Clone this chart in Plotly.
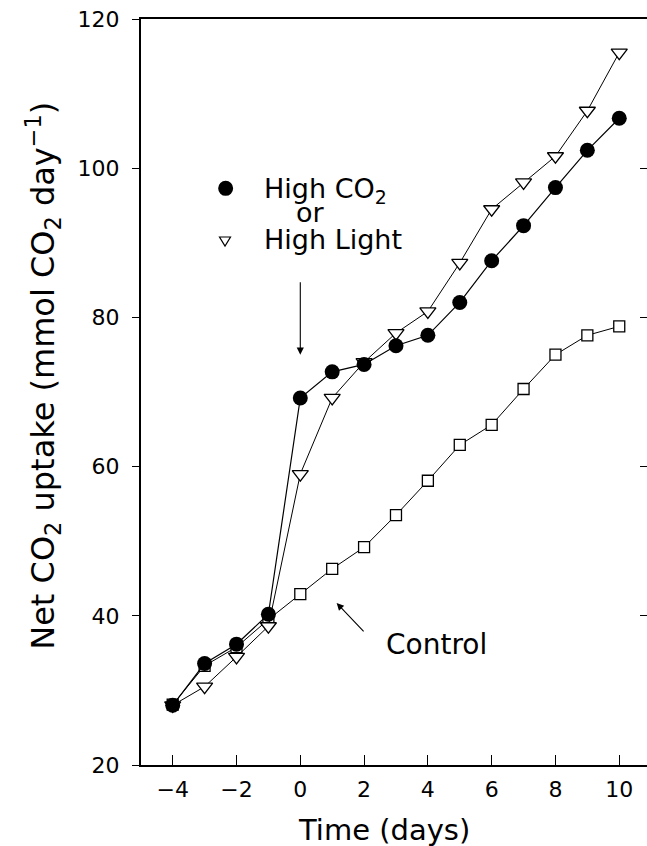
import plotly.graph_objects as go

# ---- data ----
days = [-4, -3, -2, -1, 0, 1, 2, 3, 4, 5, 6, 7, 8, 9, 10]
high_co2 = [28.0, 33.6, 36.2, 40.2, 69.2, 72.7, 73.7, 76.2, 77.6, 82.0, 87.6, 92.3, 97.4, 102.4, 106.7]
high_light = [28.0, 30.5, 34.5, 38.6, 59.0, 69.2, 74.0, 77.9, 80.8, 87.3, 94.5, 98.1, 101.6, 107.7, 115.5]
control = [28.1, 33.3, 35.8, 39.5, 42.9, 46.3, 49.2, 53.5, 58.1, 62.9, 65.6, 70.4, 75.0, 77.6, 78.8]
x_ticks = [-4, -2, 0, 2, 4, 6, 8, 10]
y_ticks = [20, 40, 60, 80, 100, 120]

FONT = "DejaVu Sans"
W, H = 647, 846
ML, MR, MT, MB = 141, 0, 19, 81
X_RANGE = [-4.994, 10.87]
Y_RANGE = [20, 120]

fig = go.Figure()

fig.add_trace(go.Scatter(
    x=days, y=control, mode="lines+markers", name="Control",
    line=dict(color="black", width=1),
    marker=dict(symbol="square", size=11, color="white", line=dict(color="black", width=1.3)),
))
fig.add_trace(go.Scatter(
    x=days, y=high_light, mode="lines+markers", name="High Light",
    line=dict(color="black", width=1),
    marker=dict(symbol="triangle-down", size=14, color="white", line=dict(color="black", width=1.3)),
))
fig.add_trace(go.Scatter(
    x=days, y=high_co2, mode="lines+markers", name="High CO2",
    line=dict(color="black", width=1.2),
    marker=dict(symbol="circle", size=15, color="black", line=dict(color="black", width=0)),
))

# Right-hand tick marks (no line), on an overlaid axis
fig.add_trace(go.Scatter(x=[], y=[], yaxis="y2", showlegend=False, hoverinfo="skip"))

fig.update_layout(
    width=W, height=H,
    margin=dict(l=ML, r=MR, t=MT, b=MB, pad=0),
    paper_bgcolor="white", plot_bgcolor="white",
    showlegend=False,
    font=dict(family=FONT, color="black", size=22),
    xaxis=dict(
        range=X_RANGE, tickvals=x_ticks, ticktext=[("\u2212" + str(-v)) if v < 0 else str(v) for v in x_ticks],
        ticks="inside", ticklen=10, tickwidth=1.2, tickcolor="black",
        showline=True, linecolor="black", linewidth=2, mirror=True,
        showgrid=False, zeroline=False,
        tickfont=dict(family=FONT, size=22, color="black"),
        ticklabelstandoff=4,
    ),
    yaxis=dict(
        range=Y_RANGE, tickvals=y_ticks,
        ticks="outside", ticklen=7, tickwidth=1.2, tickcolor="black",
        showline=True, linecolor="black", linewidth=2,
        showgrid=False, zeroline=False,
        tickfont=dict(family=FONT, size=22, color="black"),
        ticklabelstandoff=8,
    ),
    yaxis2=dict(
        range=Y_RANGE, tickvals=y_ticks, overlaying="y", side="right",
        ticks="inside", ticklen=7, tickwidth=1.2, tickcolor="black",
        showline=False, showticklabels=False, showgrid=False, zeroline=False,
    ),
)

# Axis titles
fig.add_annotation(
    text="Time (days)", xref="paper", yref="paper", x=0.481, y=-0.0871,
    xanchor="center", yanchor="middle", showarrow=False,
    font=dict(family=FONT, size=29, color="black"),
)
fig.add_annotation(
    text="Net CO<sub>2</sub> uptake (mmol CO<sub>2</sub> day<sup>\u22121</sup>)",
    xref="paper", yref="paper", x=-0.194, y=0.5215, textangle=-90,
    xanchor="center", yanchor="middle", showarrow=False,
    font=dict(family=FONT, size=32, color="black"),
)

# Legend (custom, inside plot)
fig.add_shape(type="circle", xref="x", yref="y", xsizemode="pixel", ysizemode="pixel",
              xanchor=-2.34, yanchor=97.3, x0=-7.5, x1=7.5, y0=-7.5, y1=7.5,
              fillcolor="black", line=dict(color="black", width=0))
fig.add_shape(type="path", xref="x", yref="y", xsizemode="pixel", ysizemode="pixel",
              xanchor=-2.36, yanchor=90.24, path="M -5.5 4 L 5.5 4 L 0 -5 Z",
              fillcolor="white", line=dict(color="black", width=1.2))
fig.add_annotation(text="High CO<sub>2</sub>", x=-1.2, y=97.0, xanchor="left", yanchor="middle",
                   showarrow=False, font=dict(family=FONT, size=27, color="black"))
fig.add_annotation(text="or", x=0.33, y=94.0, xanchor="center", yanchor="middle",
                   showarrow=False, font=dict(family=FONT, size=27, color="black"))
fig.add_annotation(text="High Light", x=-1.2, y=90.4, xanchor="left", yanchor="middle",
                   showarrow=False, font=dict(family=FONT, size=27, color="black"))

# Arrows
fig.add_annotation(x=0, y=75.0, ax=0, ay=84.9, xref="x", yref="y", axref="x", ayref="y",
                   text="", showarrow=True, arrowhead=2, arrowsize=1.3, arrowwidth=1.1, arrowcolor="black")
fig.add_annotation(x=1.14, y=41.7, ax=2.03, ay=37.7, xref="x", yref="y", axref="x", ayref="y",
                   text="", showarrow=True, arrowhead=2, arrowsize=1.3, arrowwidth=1.1, arrowcolor="black")
fig.add_annotation(text="Control", x=4.27, y=36.2, xanchor="center", yanchor="middle",
                   showarrow=False, font=dict(family=FONT, size=28, color="black"))

fig.write_html(
    "out.html",
    config={"displayModeBar": False},
    post_script="document.body.style.margin='0';document.body.style.padding='0';"
                "document.body.style.overflow='hidden';",
)
